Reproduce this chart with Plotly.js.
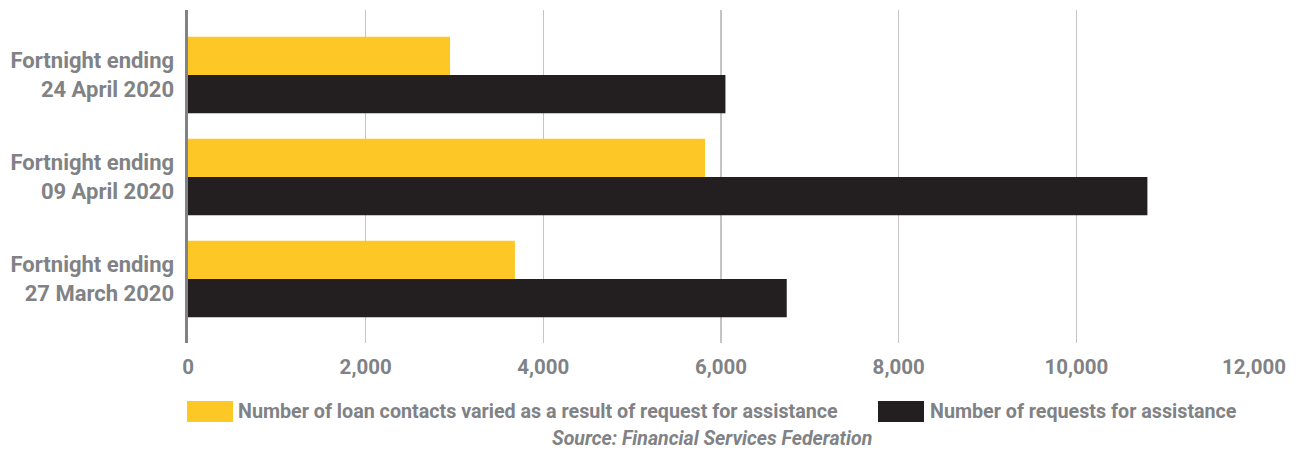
<!DOCTYPE html>
<html>
<head>
<meta charset="utf-8">
<script src="https://cdn.plot.ly/plotly-3.0.1.min.js"></script>
<style>html,body{margin:0;padding:0;background:#fff;}#chart{width:1296px;height:450px;}</style>
</head>
<body>
<div id="chart"></div>
<script>
// Data (bottom to top in the chart)
var categories = ['Fortnight ending<br>27 March 2020', 'Fortnight ending<br>09 April 2020', 'Fortnight ending<br>24 April 2020'];
var loansVaried = [3680, 5820, 2950];
var requests = [6740, 10800, 6050];
var seriesNames = ['Number of loan contacts varied as a result of request for assistance', 'Number of requests for assistance'];
var seriesColors = ['#FDC825', '#231F20'];
var xTicks = [0, 2000, 4000, 6000, 8000, 10000, 12000];
var xTickLabels = ['0', '2,000', '4,000', '6,000', '8,000', '10,000', '12,000'];
var sourceText = 'Source: Financial Services Federation';

var FONT = 'Roboto, "Noto Sans", sans-serif';
var GREY = '#808285';

var traces = [
  {type: 'bar', orientation: 'h', y: categories, x: requests, name: seriesNames[1],
   marker: {color: seriesColors[1]}, hoverinfo: 'x'},
  {type: 'bar', orientation: 'h', y: categories, x: loansVaried, name: seriesNames[0],
   marker: {color: seriesColors[0]}, hoverinfo: 'x'}
];

// custom legend (large swatches) in paper coords
var plotL = 188, plotW = 1066, plotB = 343, plotH = 333;
function px(x){ return (x - plotL) / plotW; }
function py(y){ return (plotB - y) / plotH; }

var shapes = [
  {type: 'rect', xref: 'paper', yref: 'paper', x0: px(187), x1: px(233), y0: py(422), y1: py(401),
   fillcolor: seriesColors[0], line: {width: 0}},
  {type: 'rect', xref: 'paper', yref: 'paper', x0: px(878), x1: px(924), y0: py(422), y1: py(401),
   fillcolor: seriesColors[1], line: {width: 0}}
];
var annotations = [
  {xref: 'paper', yref: 'paper', x: px(236), y: py(411.5), xanchor: 'left', yanchor: 'middle',
   text: '<b>' + seriesNames[0] + '</b>', showarrow: false, font: {family: FONT, size: 19.7, color: GREY}},
  {xref: 'paper', yref: 'paper', x: px(928), y: py(411.5), xanchor: 'left', yanchor: 'middle',
   text: '<b>' + seriesNames[1] + '</b>', showarrow: false, font: {family: FONT, size: 19.7, color: GREY}},
  {xref: 'paper', yref: 'paper', x: px(711.5), y: py(438.5), xanchor: 'center', yanchor: 'middle',
   text: '<b><i>' + sourceText + '</i></b>', showarrow: false, font: {family: FONT, size: 19.5, color: GREY}}
];

var layout = {
  width: 1296, height: 450,
  margin: {l: 188, r: 42, t: 10, b: 107, pad: 0},
  paper_bgcolor: '#ffffff', plot_bgcolor: '#ffffff',
  showlegend: false,
  barmode: 'group', bargap: 0.25, bargroupgap: 0,
  font: {family: FONT, size: 20, color: GREY},
  xaxis: {
    range: [0, 12000], tickvals: xTicks, ticktext: xTickLabels,
    showgrid: true, gridcolor: '#C4C4C6', gridwidth: 1.5,
    zeroline: false, showline: false, ticks: '', ticklabelstandoff: 9,
    tickfont: {family: FONT, size: 20.5, color: GREY, weight: 'bold'}, fixedrange: true
  },
  yaxis: {
    type: 'category', range: [-0.627, 2.637],
    showgrid: false, zeroline: false,
    showline: true, linecolor: '#808285', linewidth: 3.5,
    ticks: '', ticklabelstandoff: 6,
    tickfont: {family: FONT, size: 22, color: GREY, weight: 'bold'}, fixedrange: true
  },
  shapes: shapes,
  annotations: annotations
};

Plotly.newPlot('chart', traces, layout, {displayModeBar: false, staticPlot: true});
</script>
</body>
</html>
